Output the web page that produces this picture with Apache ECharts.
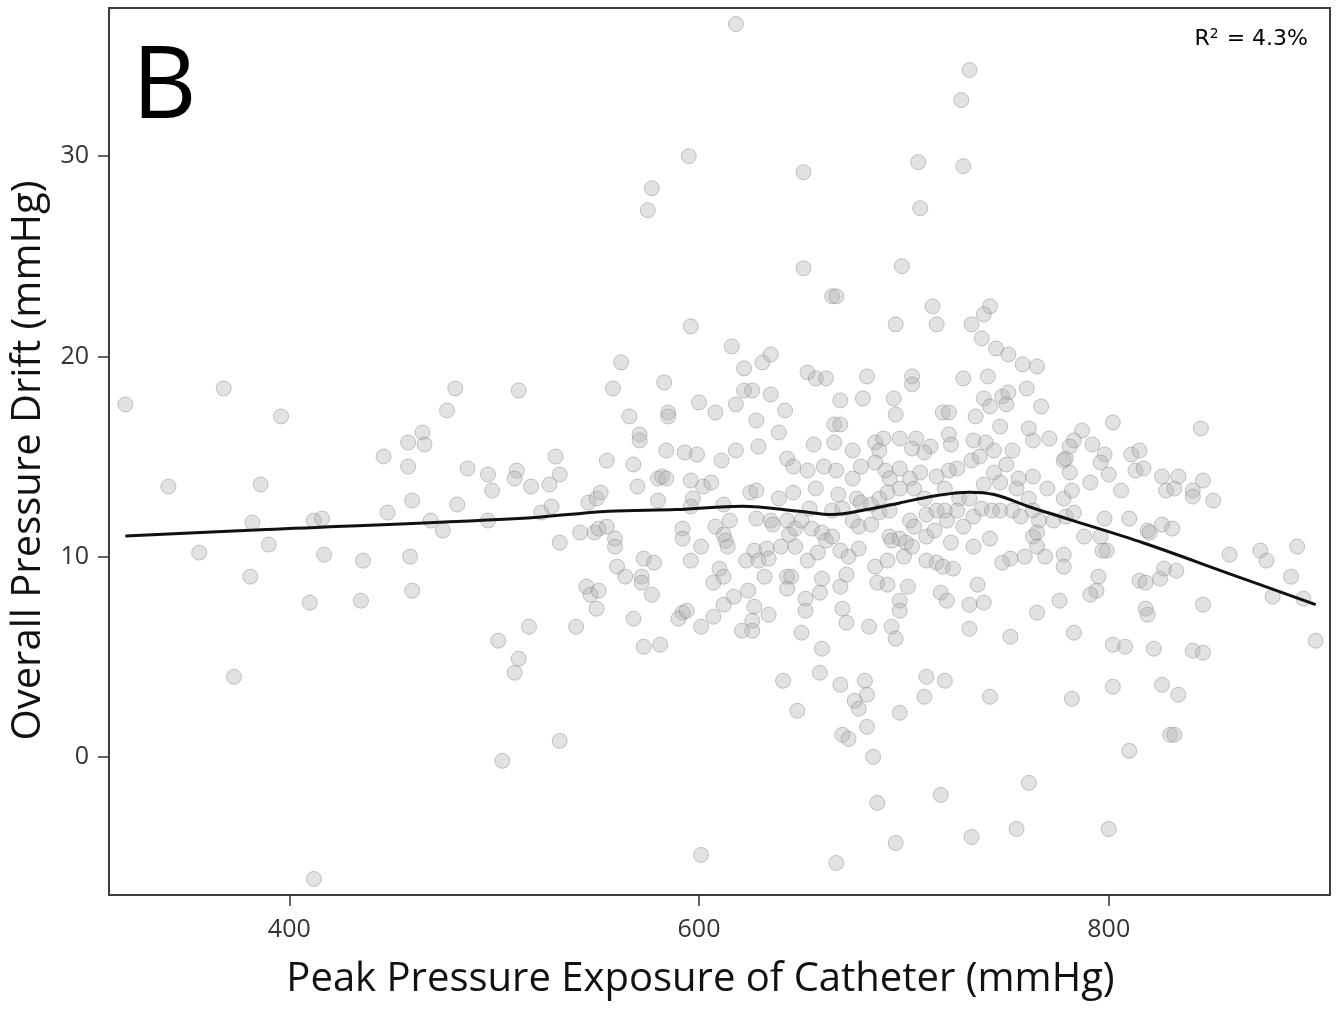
<!DOCTYPE html>
<html>
<head>
<meta charset="utf-8">
<script src="https://cdn.jsdelivr.net/npm/echarts@6/dist/echarts.min.js"></script>
<style>
html,body{margin:0;padding:0;background:#fff;}
#chart{width:1339px;height:1009px;}
</style>
</head>
<body>
<div id="chart"></div>
<script>
// Peak pressure exposure (mmHg) vs overall pressure drift (mmHg)
const driftPoints = [
[320,17.6],[341,13.5],[356,10.2],[368,18.4],[373,4.0],[381,9.0],[382,11.7],[386,13.6],[390,10.6],[396,17.0],
[410,7.7],[412,-6.1],[412,11.8],[416,11.9],[417,10.1],[435,7.8],[436,9.8],[446,15.0],[448,12.2],[458,15.7],
[458,14.5],[460,12.8],[459,10.0],[460,8.3],[465,16.2],[466,15.6],[469,11.8],[475,11.3],[477,17.3],[481,18.4],
[482,12.6],[487,14.4],[497,14.1],[499,13.3],[497,11.8],[502,5.8],[504,-0.2],[510,4.2],[512,4.9],[511,14.3],
[510,13.9],[512,18.3],[518,13.5],[517,6.5],[532,14.1],[527,13.6],[530,15.0],[523,12.2],[528,12.5],[532,10.7],
[532,0.8],[540,6.5],[542,11.2],[546,12.7],[550,12.9],[552,13.2],[549,11.2],[551,11.4],[555,11.5],[545,8.5],
[547,8.1],[551,8.3],[550,7.4],[555,14.8],[558,18.4],[562,19.7],[559,10.9],[559,10.5],[560,9.5],[564,9.0],
[566,17.0],[568,14.6],[568,6.9],[570,13.5],[571,16.1],[571,15.8],[572,9.0],[572,8.7],[573,9.9],[573,5.5],
[575,27.3],[577,28.4],[577,8.1],[578,9.7],[580,13.9],[580,12.8],[581,5.6],[582,14.0],[583,18.7],[584,13.9],
[584,15.3],[585,17.2],[585,17.0],[592,11.4],[592,10.9],[592,7.2],[590,6.9],[594,7.3],[593,15.2],[595,30.0],
[596,21.5],[596,13.8],[597,12.9],[596,12.5],[596,9.8],[599,15.1],[600,17.7],[601,10.5],[601,6.5],[601,-4.9],
[602,13.5],[606,13.7],[608,17.2],[608,11.5],[607,7.0],[607,8.7],[611,14.8],[610,9.4],[612,9.0],[612,11.1],
[613,10.8],[614,10.5],[612,12.6],[612,7.6],[615,11.8],[617,8.0],[616,20.5],[618,36.6],[618,17.6],[618,15.3],
[621,6.3],[622,19.4],[622,18.3],[623,9.8],[624,8.3],[625,13.2],[626,18.3],[627,7.5],[626,6.8],[626,6.3],
[627,10.3],[628,16.8],[628,11.9],[628,13.3],[629,9.8],[629,15.5],[631,19.7],[632,9.0],[633,10.4],[634,7.1],
[634,9.9],[635,20.1],[635,11.8],[636,11.6],[635,18.1],[639,12.9],[639,16.2],[640,10.5],[642,17.3],[641,3.8],
[643,14.9],[643,11.8],[643,9.0],[645,9.0],[643,8.4],[644,11.1],[646,13.2],[646,14.5],[647,11.4],[647,10.5],
[648,2.3],[650,11.8],[650,6.2],[651,29.2],[651,24.4],[652,7.9],[652,7.3],[653,14.3],[653,9.8],[653,19.2],
[732,34.3],[728,32.8],[707,29.7],[729,29.5],[708,27.4],[699,24.5],[665,23.0],[667,23.0],[714,22.5],[742,22.5],
[739,22.1],[696,21.6],[716,21.6],[733,21.6],[738,20.9],[745,20.4],[751,20.1],[758,19.6],[765,19.5],[657,18.9],
[662,18.9],[682,19.0],[704,19.0],[704,18.6],[729,18.9],[741,19.0],[669,17.8],[680,17.9],[695,17.9],[696,17.1],
[739,17.9],[742,17.5],[748,18.0],[751,18.2],[750,17.6],[760,18.4],[767,17.5],[666,16.6],[669,16.6],[719,17.2],
[722,17.2],[735,17.0],[747,16.5],[722,16.1],[761,16.4],[763,15.8],[771,15.9],[656,15.6],[666,15.7],[675,15.3],
[686,15.7],[690,15.9],[698,15.9],[706,15.9],[713,15.5],[734,15.8],[740,15.7],[744,15.3],[753,15.3],[688,15.3],
[704,15.4],[710,15.2],[723,15.6],[779,14.9],[661,14.5],[667,14.3],[675,13.9],[679,14.5],[686,14.7],[691,14.3],
[693,13.9],[698,14.4],[703,13.9],[708,14.2],[716,14.0],[722,14.3],[726,14.4],[733,14.8],[737,15.0],[744,14.2],
[750,14.6],[756,13.9],[763,14.0],[770,13.4],[778,14.8],[657,13.4],[668,13.1],[677,12.9],[679,12.7],[684,12.6],
[688,12.9],[692,13.2],[698,13.4],[705,13.4],[710,12.9],[720,13.4],[727,12.9],[732,12.9],[739,13.6],[747,13.7],
[755,13.4],[761,12.9],[778,12.9],[654,12.4],[665,12.3],[670,12.4],[675,11.8],[678,11.5],[684,11.6],[688,12.2],
[693,12.3],[703,11.8],[705,11.5],[711,12.1],[716,12.3],[720,12.3],[721,11.8],[726,12.3],[729,11.5],[734,12.0],
[738,12.4],[743,12.3],[747,12.3],[753,12.3],[757,12.0],[763,12.3],[766,11.8],[773,11.8],[779,12.0],[655,11.4],
[660,11.2],[662,10.8],[665,11.0],[693,11.0],[694,10.8],[698,10.9],[701,10.7],[704,10.5],[711,11.0],[715,11.3],
[723,10.7],[734,10.5],[742,10.9],[763,11.0],[765,11.2],[658,10.2],[669,10.3],[673,10.0],[678,10.4],[686,9.5],
[692,9.8],[700,10.0],[711,9.8],[716,9.7],[719,9.5],[724,9.4],[748,9.7],[752,9.9],[759,10.0],[765,10.5],
[769,10.0],[778,10.1],[778,9.5],[660,8.9],[659,8.2],[669,8.5],[672,9.1],[687,8.7],[692,8.6],[702,8.5],
[698,7.8],[718,8.2],[721,7.8],[732,7.6],[736,8.6],[739,7.7],[776,7.8],[765,7.2],[670,7.4],[672,6.7],
[683,6.5],[694,6.5],[696,5.9],[698,7.3],[732,6.4],[752,6.0],[660,5.4],[659,4.2],[669,3.6],[681,3.8],
[682,3.1],[676,2.8],[678,2.4],[682,1.5],[670,1.1],[673,0.9],[685,0.0],[698,2.2],[711,4.0],[710,3.0],
[720,3.8],[742,3.0],[687,-2.3],[718,-1.9],[667,-5.3],[696,-4.3],[733,-4.0],[755,-3.6],[761,-1.3],
[802,16.7],[845,16.4],[787,16.3],[783,15.8],[781,15.5],[792,15.6],[798,15.1],[811,15.1],[815,15.3],[796,14.7],
[800,14.1],[781,14.2],[791,13.7],[782,13.3],[806,13.3],[813,14.3],[817,14.4],[826,14.0],[828,13.3],[834,14.0],
[832,13.4],[841,13.3],[841,13.0],[846,13.8],[851,12.8],[783,12.2],[798,11.9],[810,11.9],[788,11.0],[796,11.0],
[799,10.3],[797,10.3],[819,11.3],[820,11.2],[826,11.6],[831,11.4],[859,10.1],[874,10.3],[877,9.8],[892,10.5],
[889,9.0],[880,8.0],[895,7.9],[901,5.8],[795,9.0],[794,8.3],[791,8.1],[815,8.8],[818,8.7],[825,8.9],
[827,9.4],[833,9.3],[818,7.4],[819,7.1],[846,7.6],[783,6.2],[802,5.6],[808,5.5],[822,5.4],[841,5.3],
[846,5.2],[782,2.9],[802,3.5],[826,3.6],[834,3.1],[830,1.1],[832,1.1],[810,0.3],[800,-3.6]
];
// Smoothed (loess) fit
const fitX = [320,389,512,556,589,621,649,665,682,698,714,732,744,763,781,817,858,901];
const fitY = [11.03,11.35,11.9,12.27,12.35,12.52,12.27,12.1,12.35,12.68,13.02,13.22,13.1,12.43,11.85,10.68,9.18,7.6];
const xTicks = [400,600,800];
const yTicks = [0,10,20,30];
const panelLabel = 'B';
const r2Text = '4.3%';

const fitLine = fitX.map((x,i)=>[x,fitY[i]]);
const chart = echarts.init(document.getElementById('chart'), null, {renderer:'canvas'});
const fontFam = '"Open Sans", "DejaVu Sans", sans-serif';
chart.setOption({
  animation:false,
  backgroundColor:'#fff',
  grid:{left:109,right:9,top:8,bottom:114,show:true,borderColor:'#3c3c3c',borderWidth:2,backgroundColor:'transparent'},
  xAxis:{
    type:'value',min:312,max:908,
    name:'Peak Pressure Exposure of Catheter (mmHg)',
    nameLocation:'middle',nameGap:65,
    nameTextStyle:{fontFamily:fontFam,fontSize:40,color:'#111',padding:[0,38,0,0]},
    axisLine:{show:true,onZero:false,lineStyle:{color:'#3c3c3c',width:2}},
    axisTick:{show:true,length:11,customValues:xTicks,lineStyle:{color:'#333',width:1.5}},
    axisLabel:{customValues:xTicks,margin:22,fontFamily:fontFam,fontSize:25,color:'#333'},
    splitLine:{show:false}
  },
  yAxis:{
    type:'value',min:-6.9,max:37.4,
    name:'Overall Pressure Drift (mmHg)',
    nameLocation:'middle',nameGap:60,
    nameTextStyle:{fontFamily:fontFam,fontSize:40,color:'#111',padding:[0,18,0,0]},
    axisLine:{show:true,onZero:false,lineStyle:{color:'#3c3c3c',width:2}},
    axisTick:{show:true,length:11,customValues:yTicks,lineStyle:{color:'#333',width:1.5}},
    axisLabel:{customValues:yTicks,margin:20,fontFamily:fontFam,fontSize:25,color:'#333'},
    splitLine:{show:false}
  },
  series:[
    {type:'scatter',data:driftPoints,symbol:'circle',symbolSize:15,
     itemStyle:{color:'rgba(175,175,175,0.45)',borderColor:'rgba(130,130,130,0.55)',borderWidth:1},
     z:2},
    {type:'line',data:fitLine,showSymbol:false,smooth:0.35,
     lineStyle:{color:'#111',width:3},z:3}
  ],
  graphic:[
    {type:'text',left:132,top:40,style:{text:panelLabel,font:'100px "Open Sans", sans-serif',fill:'#000'}},
    {type:'text',right:31,top:27,style:{
      text:'{r|R}{s|2}{r| = '+r2Text+'}',
      rich:{r:{fontFamily:'"DejaVu Sans", sans-serif',fontSize:22,color:'#222'},
            s:{fontFamily:'"DejaVu Sans", sans-serif',fontSize:14,color:'#222',verticalAlign:'top',padding:[0,1,10,0]}}
    }}
  ]
});
</script>
</body>
</html>
